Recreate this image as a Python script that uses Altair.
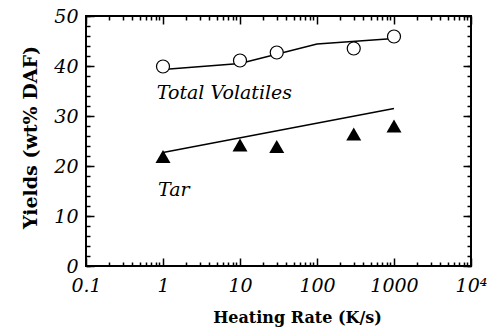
import altair as alt
import pandas as pd

# ---- data ----
rate_pts = [1, 10, 30, 300, 1000]
total_vol = [39.9, 41.1, 42.7, 43.5, 45.9]
tar_yield = [21.9, 24.2, 23.9, 26.4, 28.0]
total_fit_x = [1, 10, 100, 1000]
total_fit_y = [39.3, 40.5, 44.4, 45.5]
tar_fit_x = [1, 1000]
tar_fit_y = [22.7, 31.5]
label_text = ["Total Volatiles", "Tar"]
label_x = [0.83, 0.86]
label_y = [33.4, 14.1]

x_major = [0.1, 1, 10, 100, 1000, 10000]
x_minor = [m * 10 ** e for e in range(-1, 4) for m in range(2, 10)]
y_major = [0, 10, 20, 30, 40, 50]
y_minor = list(range(0, 51, 2))

pts = pd.DataFrame({"rate": rate_pts, "total": total_vol, "tar": tar_yield})
total_fit = pd.DataFrame({"rate": total_fit_x, "y": total_fit_y})
tar_fit = pd.DataFrame({"rate": tar_fit_x, "y": tar_fit_y})
labels = pd.DataFrame({"text": label_text, "rate": label_x, "y": label_y})

SERIF = "DejaVu Serif"
xscale = alt.Scale(type="log", domain=[0.1, 10000], nice=False)
yscale = alt.Scale(domain=[0, 50], nice=False)

MAJ, MIN = 8, 4


def tick_axis(orient, values, size):
    return alt.Axis(orient=orient, values=values, title=None, labels=False,
                    domain=False, grid=False, ticks=True, tickSize=size,
                    offset=-size, tickColor="black", tickWidth=1.5, zindex=5)


x_label_axis = alt.Axis(
    orient="bottom", values=x_major, grid=False, domain=False, ticks=False,
    tickSize=0, labelPadding=10, labelFont=SERIF, labelFontStyle="italic",
    labelFontSize=19, labelColor="black", labelFlush=False,
    labelOverlap=False, labelBound=False,
    labelExpr="datum.value >= 10000 ? '10\u2074' : (datum.value < 1 ? '0.1' : format(datum.value, 'd'))",
    title="Heating Rate (K/s)", titleFont=SERIF, titleFontWeight="bold",
    titleFontSize=16, titleColor="black", titleX=211, titleY=56,
    titleAlign="center", titleBaseline="alphabetic")

y_label_axis = alt.Axis(
    orient="left", values=y_major, grid=False, domain=False, ticks=False,
    tickSize=0, labelPadding=8, labelFont=SERIF, labelFontStyle="italic",
    labelFontSize=19, labelColor="black", labelOverlap=False,
    labelFlush=False,
    title="Yields (wt% DAF)", titleFont=SERIF, titleFontWeight="bold",
    titleFontSize=19, titleColor="black", titleAngle=270, titleX=-50,
    titleY=121, titleAlign="center", titleBaseline="alphabetic")

tar_line = alt.Chart(tar_fit).mark_line(color="black", strokeWidth=1.5).encode(
    x=alt.X("rate:Q", scale=xscale, axis=x_label_axis),
    y=alt.Y("y:Q", scale=yscale, axis=y_label_axis),
)

total_line = alt.Chart(total_fit).mark_line(color="black", strokeWidth=1.5).encode(
    x=alt.X("rate:Q", scale=xscale, axis=tick_axis("bottom", x_major, MAJ)),
    y=alt.Y("y:Q", scale=yscale, axis=tick_axis("left", y_major, MAJ)),
)

tar_pts = alt.Chart(pts).mark_point(shape="triangle-up", filled=True,
                                     color="black", size=225, opacity=1).encode(
    x=alt.X("rate:Q", scale=xscale, axis=tick_axis("bottom", x_minor, MIN)),
    y=alt.Y("tar:Q", scale=yscale, axis=tick_axis("left", y_minor, MIN)),
)

total_pts = alt.Chart(pts).mark_point(shape="circle", filled=True, fill="white",
                                       stroke="black", strokeWidth=1.2,
                                       size=169, opacity=1).encode(
    x=alt.X("rate:Q", scale=xscale, axis=tick_axis("top", x_major, MAJ)),
    y=alt.Y("total:Q", scale=yscale, axis=tick_axis("right", y_major, MAJ)),
)

text = alt.Chart(labels).mark_text(font=SERIF, fontStyle="italic", fontSize=19,
                                    align="left", baseline="alphabetic",
                                    color="black").encode(
    x=alt.X("rate:Q", scale=xscale, axis=tick_axis("top", x_minor, MIN)),
    y=alt.Y("y:Q", scale=yscale, axis=tick_axis("right", y_minor, MIN)),
    text="text:N",
)

chart = alt.layer(tar_line, total_line, tar_pts, total_pts, text).resolve_axis(
    x="independent", y="independent"
).properties(
    width=385, height=250,
    autosize=alt.AutoSizeParams(type="none"),
    padding={"left": 86, "top": 16, "right": 25, "bottom": 61},
    background="white",
).configure_view(stroke="black", strokeWidth=2)

chart.save("out.html", embed_options={"renderer": "svg", "actions": False})
